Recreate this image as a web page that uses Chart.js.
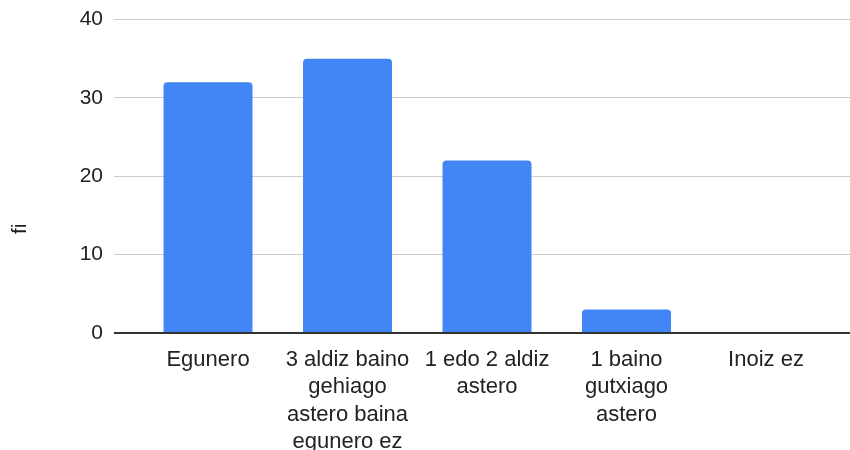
<!DOCTYPE html>
<html>
<head>
<meta charset="utf-8">
<script src="https://cdn.jsdelivr.net/npm/chart.js@4"></script>
<style>
  html, body { margin: 0; padding: 0; background: #fff; }
  #wrap { width: 850px; height: 450px; position: relative; }
</style>
</head>
<body>
<div id="wrap"><canvas id="c"></canvas></div>
<script>
const categories = [
  ["Egunero"],
  ["3 aldiz baino", "gehiago", "astero baina", "egunero ez"],
  ["1 edo 2 aldiz", "astero"],
  ["1 baino", "gutxiago", "astero"],
  ["Inoiz ez"]
];
const fiValues = [32, 35, 22, 3, 0];
const yTicks = [0, 10, 20, 30, 40];
const yTitle = "fi";

const points = fiValues.map((v, i) => ({ x: i, y: v }));
const FONT = "Arial, 'Liberation Sans', sans-serif";

new Chart(document.getElementById('c'), {
  type: 'bar',
  data: {
    datasets: [{
      data: points,
      backgroundColor: '#4285F4',
      borderWidth: 0,
      borderRadius: { topLeft: 4, topRight: 4, bottomLeft: 0, bottomRight: 0 },
      borderSkipped: 'bottom',
      barPercentage: 0.638,
      categoryPercentage: 1
    }]
  },
  options: {
    responsive: true,
    maintainAspectRatio: false,
    animation: false,
    layout: { padding: { top: 19.5, right: 0, bottom: 0, left: 0 } },
    plugins: { legend: { display: false }, tooltip: { enabled: false } },
    scales: {
      x: {
        type: 'linear',
        offset: false,
        min: -0.674,
        max: 4.602,
        grid: { display: false, offset: false },
        border: { display: false },
        ticks: {
          stepSize: 1,
          includeBounds: false,
          autoSkip: false,
          maxRotation: 0,
          minRotation: 0,
          padding: 5,
          color: '#222',
          font: { family: FONT, size: 22, lineHeight: 1.25 },
          callback: (v) => Number.isInteger(v) && categories[v] ? categories[v] : ''
        },
        afterFit: (s) => { s.height = 117; }
      },
      y: {
        min: yTicks[0],
        max: yTicks[yTicks.length - 1],
        afterBuildTicks: (s) => { s.ticks = yTicks.map(v => ({ value: v })); },
        grid: {
          drawTicks: false,
          color: (ctx) => ctx.tick && ctx.tick.value === 0 ? '#333333' : '#cccccc',
          lineWidth: (ctx) => ctx.tick && ctx.tick.value === 0 ? 2 : 1
        },
        border: { display: false },
        ticks: {
          padding: 11,
          color: '#222',
          font: { family: FONT, size: 21, lineHeight: 0.5 }
        },
        title: {
          display: true,
          text: yTitle + " ".repeat(18),
          color: '#222',
          font: { family: FONT, size: 21 },
          padding: { top: 8, bottom: 0 }
        },
        afterFit: (s) => { s.width = 114; }
      }
    }
  }
});
</script>
</body>
</html>
